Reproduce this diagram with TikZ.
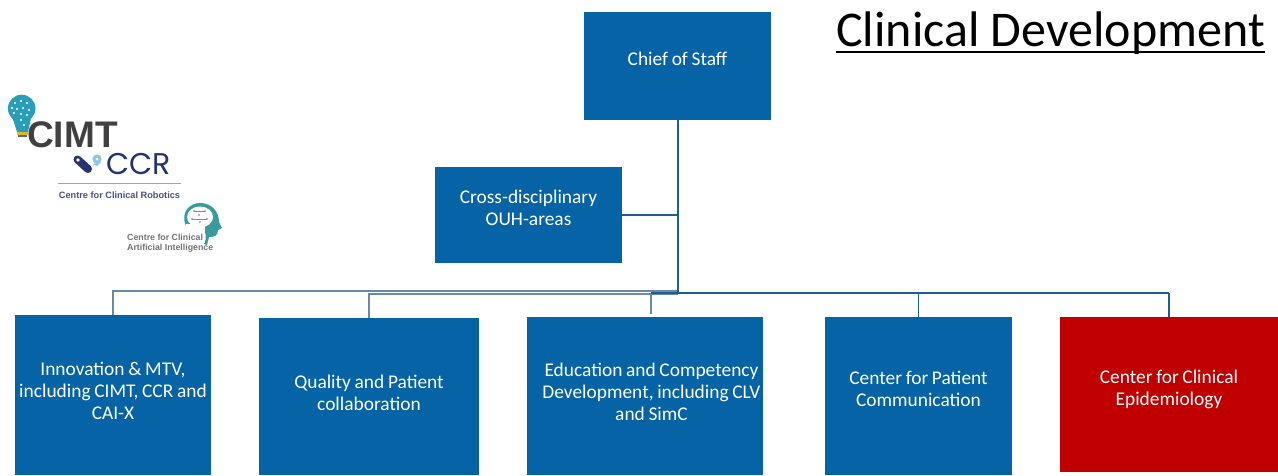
\documentclass[tikz,border=0pt]{standalone}
\usepackage{fontspec}
\setmainfont{Carlito}
\newfontfamily\titlefont{Carlito}
\newfontfamily\logofont{Liberation Sans}
\newfontfamily\ccrfont{Poppins}
\definecolor{boxblue}{HTML}{0563A6}
\definecolor{boxred}{HTML}{C00000}
\definecolor{linkblue}{HTML}{1F5F8B}
\definecolor{linkgrey}{HTML}{6A88A8}
\definecolor{cimtgrey}{HTML}{404040}
\definecolor{teal1}{HTML}{2A9DB8}
\definecolor{ccrnavy}{HTML}{27336F}
\definecolor{ccrlight}{HTML}{8FC4E4}
\definecolor{headteal}{HTML}{3A9A9E}
\tikzset{
  orgbox/.style={fill=boxblue,draw=none,text=white,font=\fontsize{19.4}{21.7}\selectfont,inner sep=0pt},
  redbox/.style={orgbox,fill=boxred},
  link/.style={draw=linkblue,line width=1.2pt},
  mainlink/.style={draw=linkblue,line width=2pt},
  thinlink/.style={draw=linkgrey,line width=1.3pt},
}
\newcommand{\boxat}[7]{\node[#1,minimum width=#4pt-#2pt,minimum height=#5pt-#3pt] (#6) at ({(#2+#4)/2},{(#3+#5)/2}) {#7};}
\newcommand{\lifted}[3]{\smash{\raisebox{#1pt}{\hbox to 0pt{\hss\kern#2pt\spaceskip=0.19em\relax\begin{tabular}[c]{@{}c@{}}#3\end{tabular}\hss}}}}
\begin{document}
\begin{tikzpicture}[x=1pt,y=-1pt]
\useasboundingbox (0,0) rectangle (1278,475);
\fill[white] (0,0) rectangle (1278,475);
\boxat{orgbox}{584}{12}{771}{120}{chief}{\lifted{-0.5}{0}{Chief of Staff}}
\boxat{orgbox}{435}{167}{622}{263}{cross}{\lifted{0}{0}{Cross-disciplinary\\OUH-areas}}
\boxat{orgbox}{15}{315}{211}{475}{innov}{\lifted{-3.5}{0}{Innovation \& MTV,\\including CIMT, CCR and\\CAI-X}}
\boxat{orgbox}{259}{318}{479}{475}{qual}{\lifted{-4}{0}{Quality and Patient\\collaboration}}
\boxat{orgbox}{527}{317}{763}{475}{edu}{\lifted{-3.5}{13}{Education and Competency\\Development, including CLV\\and SimC}}
\boxat{orgbox}{825}{317}{1012}{475}{pat}{\lifted{-0.5}{0}{Center for Patient\\Communication}}
\boxat{redbox}{1060}{317}{1278}{472}{epi}{\lifted{-0.5}{0}{Center for Clinical\\Epidemiology}}
\coordinate (hub) at (chief.south |- 0,293);
\coordinate (crossj) at (chief.south |- cross.east);
\coordinate (innovtop) at (innov.north |- 0,291);
\coordinate (qualtop) at (qual.north |- 0,294);
\coordinate (edubot) at (651,314);
\coordinate (edutop) at (651,293);
\coordinate (pattop) at (pat.north |- 0,293);
\coordinate (epitop) at (epi.north |- 0,293);
\draw[thinlink] (innov.north) -- (innovtop) -- (hub |- innovtop);
\draw[thinlink] (qual.north) -- (qualtop) -- (hub |- qualtop);
\draw[thinlink] (edubot) -- (edutop);
\draw[mainlink] (edutop) -- (hub) -- (chief.south);
\draw[link] (cross.east) -- (crossj);
\draw[link] (hub) -- (pattop) -- (epitop);
\draw[link] (pat.north) -- (pattop);
\draw[link] (epi.north) -- (epitop);
\node[anchor=base west,inner sep=0pt,font=\titlefont\fontsize{50}{52}\selectfont] (title) at (836,46) {Clinical Development};
\draw[line width=2.4pt,black] (title.base west |- 0,52) -- (title.base east |- 0,52);
% CIMT logo
\fill[teal1] (21.7,108.5) circle (13.8);
\fill[teal1] (12,116) -- (31.5,116) -- (28,132) -- (17,132) -- cycle;
\fill[yellow!70!orange!85!black] (17,132) rectangle (28,135);
\fill[black!60] (18,135) rectangle (27,137);
\foreach \a/\b in {15/103,21/101,27/103,12/108,17/109,23/108,29/110,14/113,21/114,27/115,21/120,24/125}
  \fill[white] (\a,\b) circle (1.1);
\node[anchor=base west,inner sep=0pt,font=\logofont\bfseries\fontsize{37}{38}\selectfont,text=cimtgrey] (cimt) at (27,147.5) {CIMT};
% CCR logo
\draw[line width=8pt,line cap=round,ccrnavy] (77.5,159.5) -- (88,169);
\fill[white] (78,160) circle (1.8);
\fill[ccrlight] (97,159) circle (4.6);
\fill[ccrlight] (92.5,164) -- (97,166) -- (101,162) -- cycle;
\fill[white] (97,159) circle (1.5);
\node[anchor=base west,inner sep=0pt,font=\ccrfont\fontsize{30}{32}\selectfont,text=ccrnavy] (ccr) at (106,174.5) {CCR};
\draw[draw=ccrnavy!45,line width=1pt] (58,183) -- (181,183);
\node[anchor=center,inner sep=0pt,font=\logofont\bfseries\fontsize{9.2}{10}\selectfont,text=ccrnavy!85] (ccrsub) at (119.5,195) {Centre for Clinical Robotics};
% CAI-X logo
\fill[headteal] (186,226) .. controls (180,212) and (190,203) .. (200,203)
  .. controls (212,203) and (219,212) .. (219,222) -- (222,228) -- (218,230)
  .. controls (218,236) and (214,237) .. (209,237) -- (207,245) -- (204,244)
  .. controls (207,238) and (206,232) .. (203,228) -- cycle;
\fill[white] (200,217) ellipse (13 and 10.5);
\fill[white] (186,224) rectangle (205,243);
\foreach \a/\b in {194/211,205/211,192/219,207/219,199/215,200/222}
  \fill[ccrnavy!70] (\a,\b) circle (0.9);
\draw[ccrnavy!60,line width=.5pt] (194,211) -- (205,211) (192,219) -- (207,219);
\node[anchor=west,inner sep=0pt,align=left,font=\logofont\bfseries\fontsize{8.8}{10.5}\selectfont,text=black!55] (caix) at (127,243) {Centre for Clinical\\Artificial Intelligence};
\end{tikzpicture}
\end{document}
